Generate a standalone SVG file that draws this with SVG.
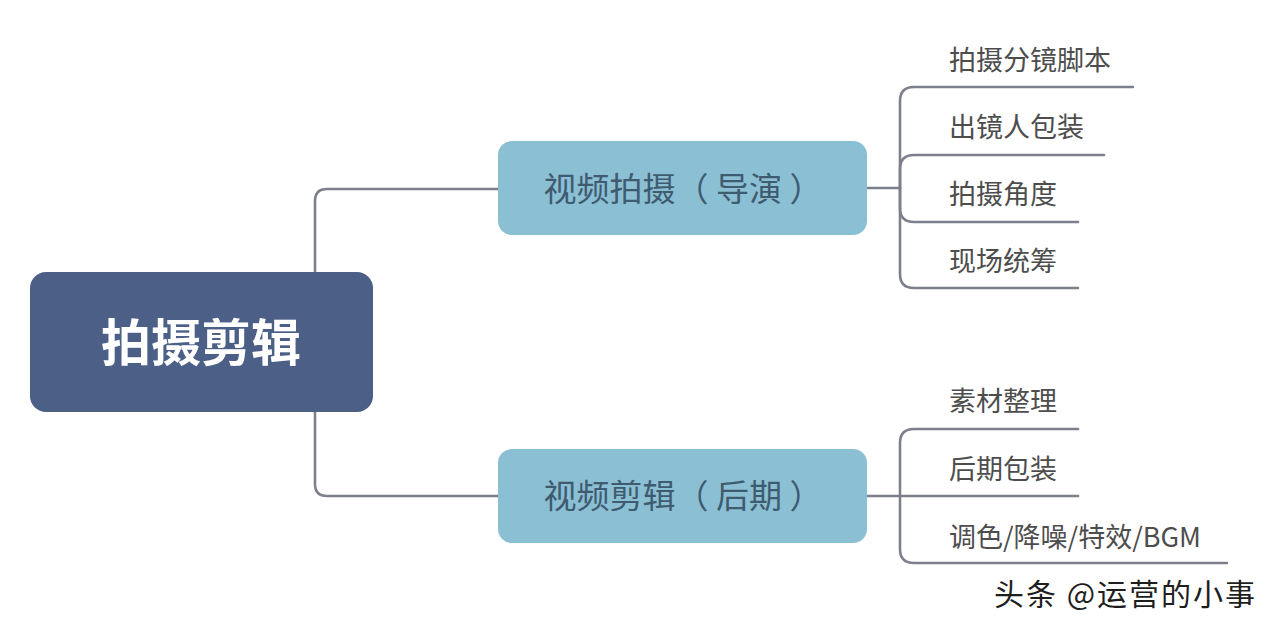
<svg xmlns="http://www.w3.org/2000/svg" width="1280" height="633" viewBox="0 0 1280 633">
<style>
.ln{fill:none;stroke:#7d808c;stroke-width:2.6;stroke-linecap:round;stroke-linejoin:round}
.mid{fill:#8bbfd4}
.midt{font-family:"Noto Sans CJK SC","Noto Sans",sans-serif;font-size:33px;fill:#3f5b6f;text-anchor:middle}
.leaf{font-family:"Noto Sans CJK SC","Noto Sans",sans-serif;font-size:27px;fill:#4d4d4d}
</style>
<rect width="1280" height="633" fill="#ffffff"/>
<g id="connectors">
<path class="ln" d="M315,272 V201 Q315,189 327,189 H500"/>
<path class="ln" d="M315,412 V484 Q315,496 327,496 H500"/>
<path class="ln" d="M867,188 H900"/>
<path class="ln" d="M900,188 V101 Q900,87 914,87 H1133"/>
<path class="ln" d="M900,188 V169 Q900,155 914,155 H1104"/>
<path class="ln" d="M900,188 V208 Q900,222 914,222 H1078"/>
<path class="ln" d="M900,188 V274 Q900,288 914,288 H1078"/>
<path class="ln" d="M867,496 H1078"/>
<path class="ln" d="M900,496 V443 Q900,429 914,429 H1078"/>
<path class="ln" d="M900,496 V549 Q900,563 914,563 H1227"/>
</g>
<g id="root">
<rect x="30" y="272" width="343" height="140" rx="16" fill="#4b5f87"/>
<text x="201" y="361" font-family="'Noto Sans CJK SC','Noto Sans',sans-serif" font-size="50" font-weight="bold" fill="#ffffff" text-anchor="middle">拍摄剪辑</text>
</g>
<g id="n-shoot">
<rect class="mid" x="498" y="141" width="369" height="94" rx="14"/>
<text class="midt" x="683" y="201">视频拍摄（ 导演 ）</text>
</g>
<g id="n-edit">
<rect class="mid" x="498" y="449" width="369" height="94" rx="14"/>
<text class="midt" x="683" y="508">视频剪辑（ 后期 ）</text>
</g>
<g id="leaf-1"><text class="leaf" x="949" y="70">拍摄分镜脚本</text></g>
<g id="leaf-2"><text class="leaf" x="949" y="137">出镜人包装</text></g>
<g id="leaf-3"><text class="leaf" x="949" y="204">拍摄角度</text></g>
<g id="leaf-4"><text class="leaf" x="949" y="271">现场统筹</text></g>
<g id="leaf-5"><text class="leaf" x="949" y="411">素材整理</text></g>
<g id="leaf-6"><text class="leaf" x="949" y="479">后期包装</text></g>
<g id="leaf-7"><text class="leaf" x="949" y="547">调色/降噪/特效/BGM</text></g>
<text x="994" y="605" font-family="'Noto Sans CJK SC','Noto Sans',sans-serif" font-size="30" fill="#1e1e1e" letter-spacing="2">头条 @运营的小事</text>
</svg>
